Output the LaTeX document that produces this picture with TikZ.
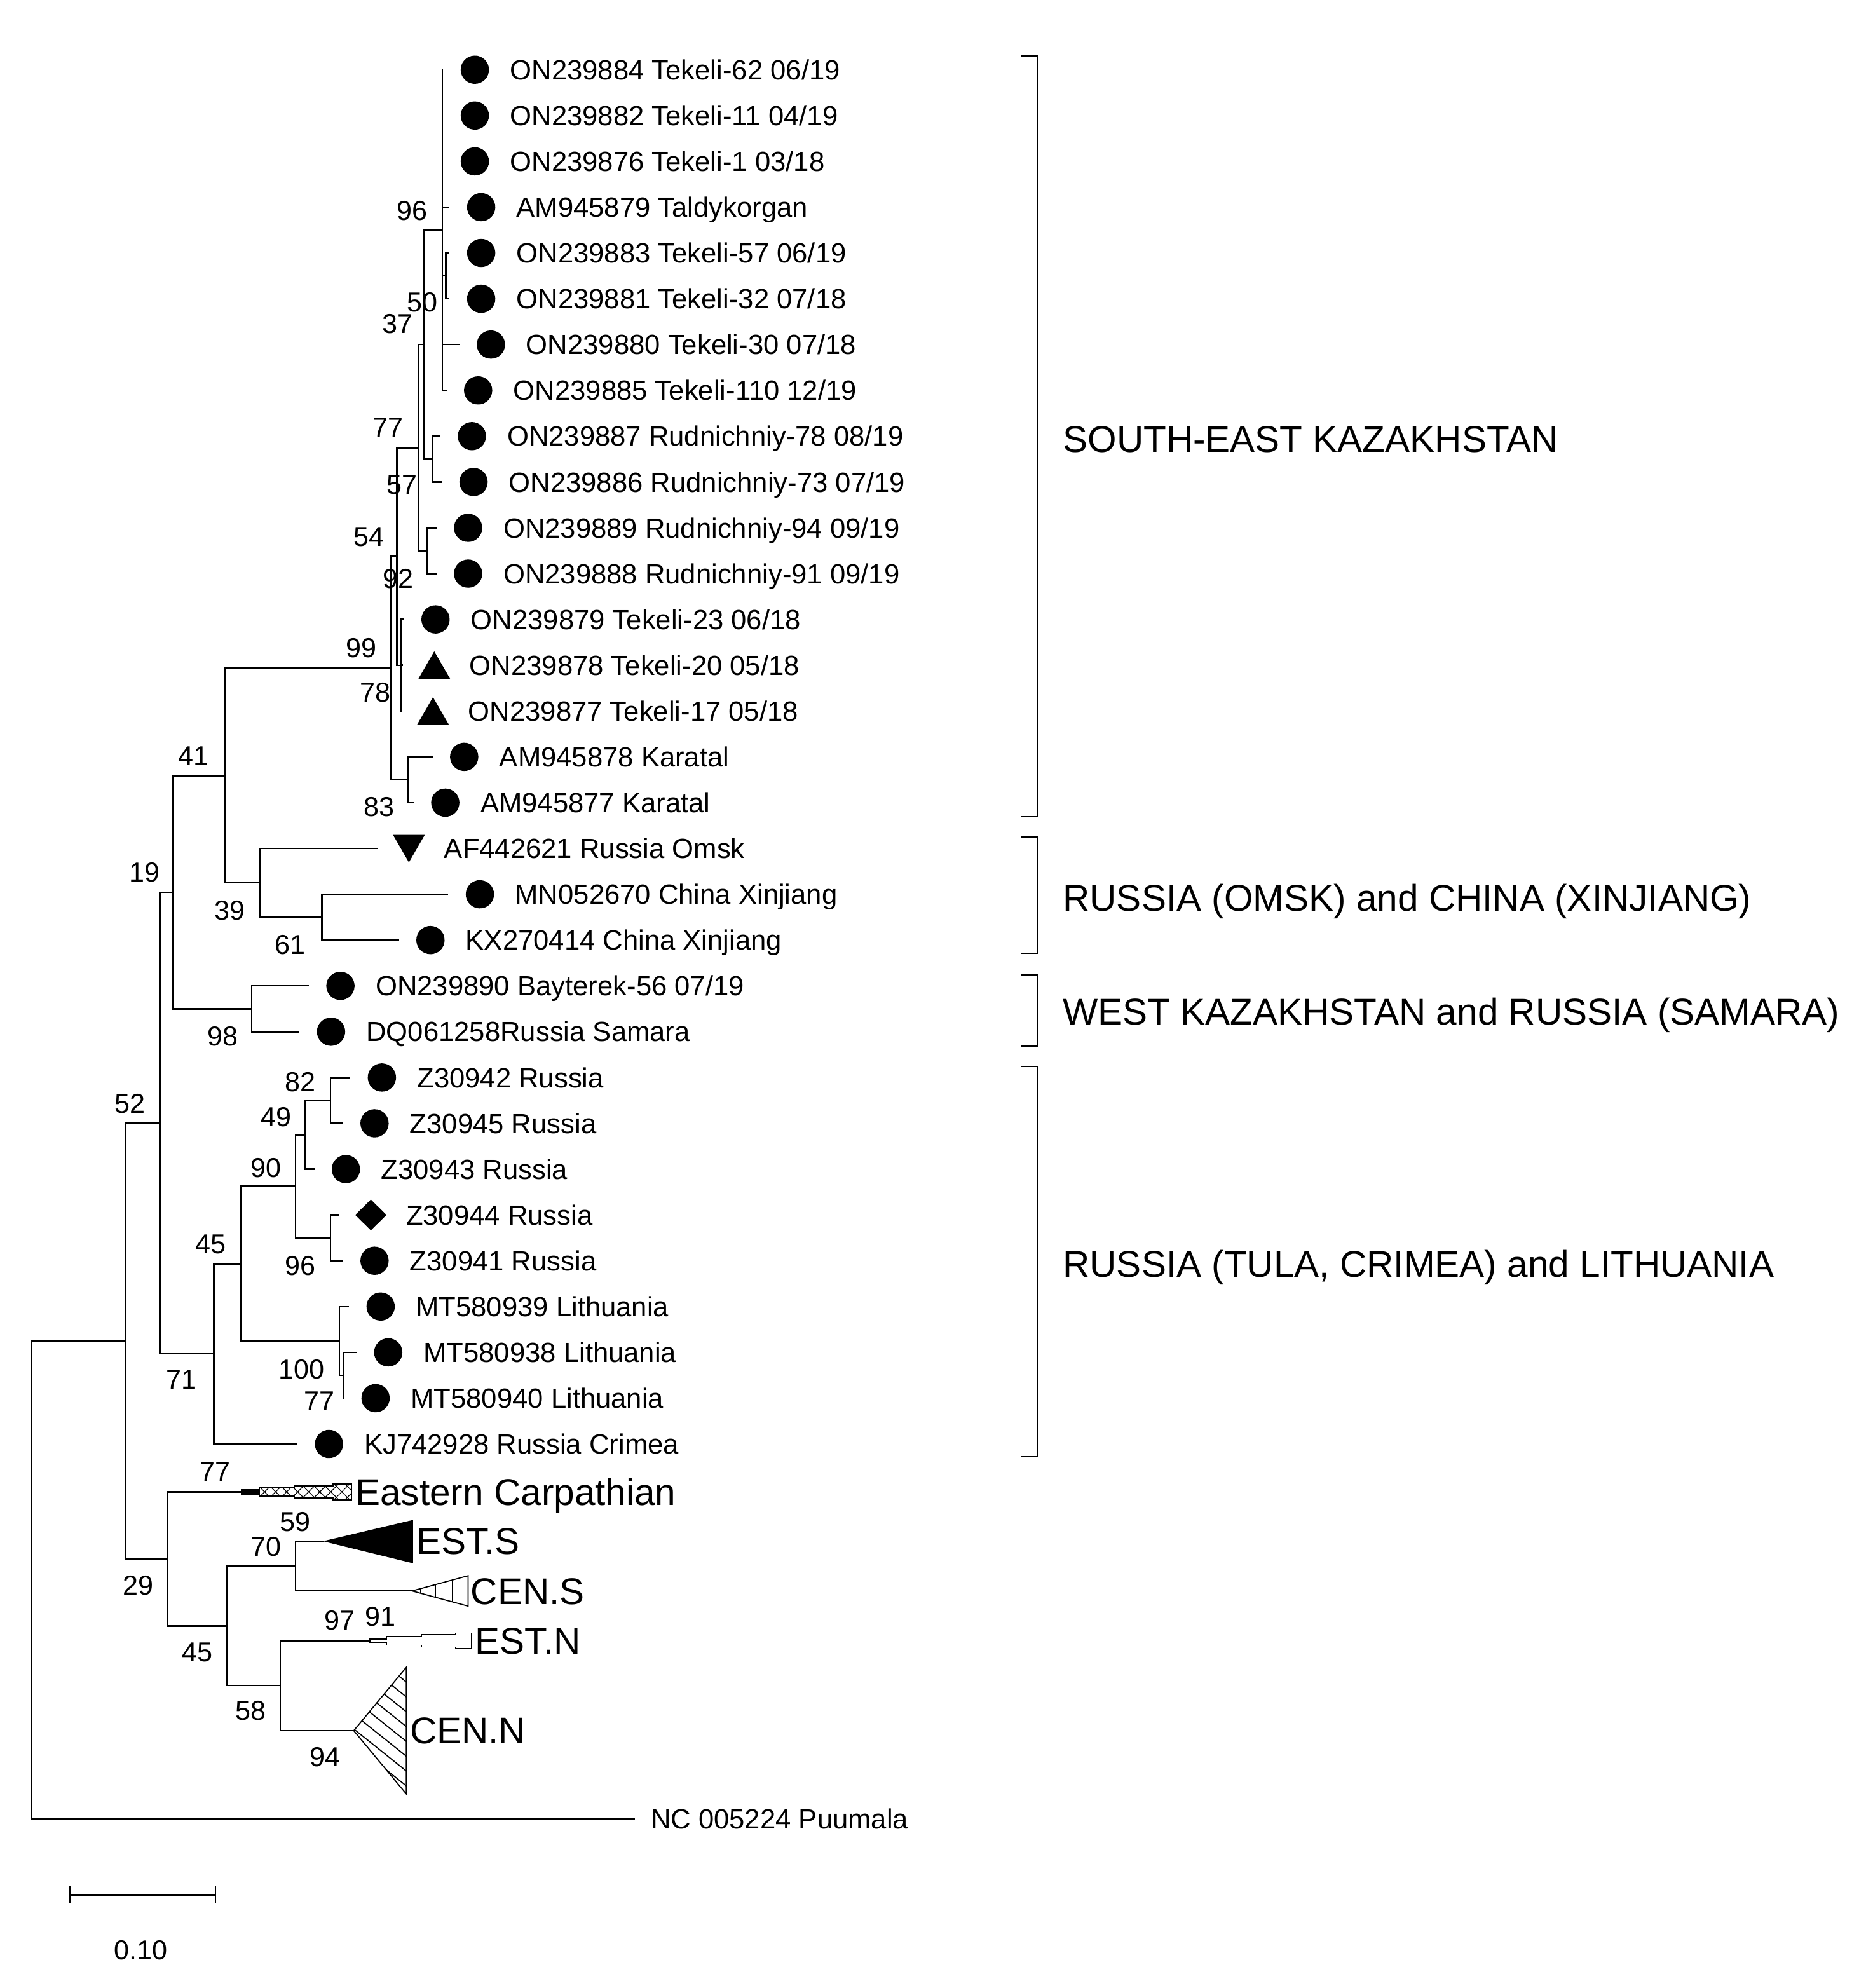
\documentclass[tikz,border=0pt]{standalone}
\usepackage{fontspec}
\setmainfont{Liberation Sans}
\usepackage{tikz}
\usetikzlibrary{positioning}
\usetikzlibrary{shapes.geometric}
\usetikzlibrary{patterns.meta}
\tikzset{>=latex}
\tikzstyle{branch} = [line width=0.7pt, line cap=rect]
\tikzstyle{mdot} = [circle, fill=black, inner sep=0, minimum size=0.446cm]
\tikzstyle{mup} = [regular polygon, regular polygon sides=3, fill=black, inner sep=0, minimum size=0.578cm, yshift=-0.07cm]
\tikzstyle{mdown} = [regular polygon, regular polygon sides=3, shape border rotate=180, fill=black, inner sep=0, minimum size=0.578cm, yshift=0.07cm]
\tikzstyle{mdia} = [diamond, fill=black, inner sep=0, minimum width=0.5cm, minimum height=0.49cm]
\tikzstyle{leaf} = [inner sep=0, anchor=west, text height=8.9pt, text depth=0pt, font=\fontsize{12.45}{14}\selectfont]
\tikzstyle{boot} = [inner sep=0, text height=8.8pt, text depth=0pt, font=\fontsize{12.3}{14}\selectfont]
\tikzstyle{clade} = [inner sep=0, anchor=west, text height=11.9pt, text depth=0pt, font=\fontsize{16.7}{20}\selectfont]

\begin{document}
\begin{tikzpicture}[x=0.02cm, y=-0.02cm]
\useasboundingbox (0,0) rectangle (1477,1568);

% leaves: row / tip x / marker / name
\foreach \i/\x/\s/\t in {
  1/349/mdot/{ON239884 Tekeli-62 06/19},
  2/349/mdot/{ON239882 Tekeli-11 04/19},
  3/349/mdot/{ON239876 Tekeli-1 03/18},
  4/354/mdot/{AM945879 Taldykorgan},
  5/354/mdot/{ON239883 Tekeli-57 06/19},
  6/354/mdot/{ON239881 Tekeli-32 07/18},
  7/361.7/mdot/{ON239880 Tekeli-30 07/18},
  8/351.6/mdot/{ON239885 Tekeli-110 12/19},
  9/346.7/mdot/{ON239887 Rudnichniy-78 08/19},
  10/348/mdot/{ON239886 Rudnichniy-73 07/19},
  11/343.7/mdot/{ON239889 Rudnichniy-94 09/19},
  12/343.7/mdot/{ON239888 Rudnichniy-91 09/19},
  13/318/mdot/{ON239879 Tekeli-23 06/18},
  14/317/mup/{ON239878 Tekeli-20 05/18},
  15/316/mup/{ON239877 Tekeli-17 05/18},
  16/340.6/mdot/{AM945878 Karatal},
  17/325.7/mdot/{AM945877 Karatal},
  18/297/mdown/{AF442621 Russia Omsk},
  19/353/mdot/{MN052670 China Xinjiang},
  20/314/mdot/{KX270414 China Xinjiang},
  21/243/mdot/{ON239890 Bayterek-56 07/19},
  22/235.6/mdot/{DQ061258Russia Samara},
  23/275.7/mdot/{Z30942 Russia},
  24/269.9/mdot/{Z30945 Russia},
  25/247.3/mdot/{Z30943 Russia},
  26/267/mdia/{Z30944 Russia},
  27/269.9/mdot/{Z30941 Russia},
  28/274.7/mdot/{MT580939 Lithuania},
  29/280.7/mdot/{MT580938 Lithuania},
  30/270.7/mdot/{MT580940 Lithuania},
  31/234/mdot/{KJ742928 Russia Crimea}}{
  \pgfmathsetmacro{\yy}{55+(\i-1)*36.13}
  \coordinate (t\i) at (\x,\yy);
  \coordinate (r\i) at (\x+25.5,\yy);
  \node[\s] (m\i) at (r\i) {};
  \node[leaf, right=0.55cm of r\i] (l\i) {\t};
}

% collapsed clades and outgroup
\coordinate (cEC) at (190.3,1176.8);
\coordinate (cESTS) at (254.7,1215.6);
\coordinate (cCENS) at (325,1254.8);
\coordinate (cESTN) at (291.5,1294.2);
\coordinate (cCENN) at (279,1365);
\coordinate (tP) at (500,1434.4);

% internal nodes
\coordinate (n2) at (351.6,217.6);
\coordinate (n1) at (349,181.5);
\coordinate (n3) at (341,362.1);
\coordinate (nA) at (334,271.8);
\coordinate (n4) at (336.6,434.4);
\coordinate (nB) at (330,353.1);
\coordinate (nD) at (316,524.7);
\coordinate (nC) at (313,438.9);
\coordinate (n83) at (321.6,615.1);
\coordinate (nR) at (308,527);
\coordinate (n61) at (254,723.4);
\coordinate (n39) at (205,696.3);
\coordinate (n41) at (177.5,611.7);
\coordinate (n98) at (198.5,795.7);
\coordinate (n19) at (136.7,703.7);
\coordinate (n82) at (260.7,868);
\coordinate (n49) at (240.5,895);
\coordinate (n96) at (260.7,976.4);
\coordinate (n90) at (233,935.7);
\coordinate (n77) at (270.7,1084.7);
\coordinate (n100) at (267.6,1057.6);
\coordinate (n45) at (189.7,996.7);
\coordinate (n71) at (168.6,1067.8);
\coordinate (nX) at (126,885.8);
\coordinate (n70) at (233,1235.2);
\coordinate (n58) at (221,1329.5);
\coordinate (n45b) at (178.8,1282.4);
\coordinate (n29) at (131.8,1229.5);
\coordinate (n52) at (98.8,1057.7);
\coordinate (root) at (25,1246);

% branches
\foreach \p/\c in {n2/t5, n2/t6,
  n1/t1, n1/t2, n1/t3, n1/t4, n1/n2, n1/t7, n1/t8,
  n3/t9, n3/t10, nA/n1, nA/n3, n4/t11, n4/t12, nB/nA, nB/n4,
  nD/t13, nD/t14, nD/t15, nC/nB, nC/nD, n83/t16, n83/t17, nR/nC, nR/n83,
  n61/t19, n61/t20, n39/t18, n39/n61, n41/nR, n41/n39,
  n98/t21, n98/t22, n19/n41, n19/n98,
  n82/t23, n82/t24, n49/n82, n49/t25, n96/t26, n96/t27, n90/n49, n90/n96,
  n77/t29, n77/t30, n100/t28, n100/n77, n45/n90, n45/n100, n71/n45, n71/t31,
  nX/n19, nX/n71,
  n70/cESTS, n70/cCENS, n58/cESTN, n58/cCENN, n45b/n70, n45b/n58,
  n29/cEC, n29/n45b, n52/nX, n52/n29, root/n52, root/tP}
  \draw[branch] (\p) |- (\c);

% Eastern Carpathian
\path[pattern={Lines[angle=45,distance=3.5pt,line width=0.35pt]}] (204.6,1173.5) -- (232.4,1173.5) -- (232.4,1172) -- (262.8,1172) -- (262.8,1170.6) -- (277.1,1170.6) -- (277.1,1183) -- (262.8,1183) -- (262.8,1181.6) -- (232.4,1181.6) -- (232.4,1180.1) -- (204.6,1180.1) -- cycle;
\path[pattern={Lines[angle=-45,distance=3.5pt,line width=0.35pt]}] (204.6,1173.5) -- (232.4,1173.5) -- (232.4,1172) -- (262.8,1172) -- (262.8,1170.6) -- (277.1,1170.6) -- (277.1,1183) -- (262.8,1183) -- (262.8,1181.6) -- (232.4,1181.6) -- (232.4,1180.1) -- (204.6,1180.1) -- cycle;
\draw[line width=0.5pt, fill=black] (cEC) -- (190.3,1175.1) -- (204.6,1175.1) -- (204.6,1178.5) -- (190.3,1178.5) -- cycle;
\draw[line width=0.5pt] (204.6,1175.1) -- (204.6,1173.5) -- (232.4,1173.5) -- (232.4,1172) -- (262.8,1172) -- (262.8,1170.6) -- (277.1,1170.6) -- (277.1,1183) -- (262.8,1183) -- (262.8,1181.6) -- (232.4,1181.6) -- (232.4,1180.1) -- (204.6,1180.1) -- (204.6,1178.5);

% EST.S
\fill (cESTS) -- (325.8,1198.8) -- (325.8,1233) -- cycle;

% CEN.S
\draw[line width=0.5pt] (cCENS) -- (369.2,1242.8) -- (369.2,1266.8) -- cycle;
\foreach \u in {331.7,343.3,356.7}
  \draw[line width=0.5pt] (\u,{1254.8-12*(\u-325)/44.2}) -- (\u,{1254.8+12*(\u-325)/44.2});

% EST.N
\draw[line width=0.5pt] (cESTN) -- (291.5,1292.8) -- (304.9,1292.8) -- (304.9,1290.9) -- (332.5,1290.9) -- (332.5,1289.4) -- (359.2,1289.4) -- (359.2,1288) -- (372,1288) -- (372,1300.4) -- (359.2,1300.4) -- (359.2,1299) -- (332.5,1299) -- (332.5,1297.5) -- (304.9,1297.5) -- (304.9,1295.6) -- (291.5,1295.6) -- cycle;

% CEN.N
\begin{scope}
  \clip (cCENN) -- (320.5,1315) -- (320.5,1415) -- cycle;
  \foreach \j in {0,...,8}
    \draw[line width=0.5pt] (320.5,1315+\j*11.7) -- ++(-60,-48);
\end{scope}
\draw[line width=0.5pt] (cCENN) -- (320.5,1315) -- (320.5,1415) -- cycle;

% group labels
\node[clade] (ecLab) at (280,1176.8) {Eastern Carpathian};
\node[clade] (estsLab) at (328,1215.6) {EST.S};
\node[clade] (censLab) at (371,1254.8) {CEN.S};
\node[clade] (estnLab) at (374.5,1294.2) {EST.N};
\node[clade] (cennLab) at (323,1365) {CEN.N};
\node[leaf] (puuLab) at (513,1434.4) {NC 005224 Puumala};

% bootstrap values
\foreach \v/\x/\y [count=\k] in {96/325/166, 50/333/238, 37/313.5/255, 77/306/337,
  57/317/382, 54/291/423, 92/314/456, 99/285/511, 78/296/546, 83/299/636,
  41/152.5/596, 19/114/688, 39/181/718, 61/229/745, 98/175.6/817,
  82/237/853, 49/217.6/881, 90/210/921, 45/166/981, 96/237/998, 52/102.5/870,
  100/238/1080, 77/252/1105, 71/143.3/1088, 77/169.7/1160.5, 59/232.7/1200,
  70/210/1219.6, 29/109/1250, 97/268/1278, 91/300/1275, 45/155.7/1302.6,
  58/197.7/1349, 94/256.4/1385.6}
  \node[boot] (bs\k) at (\x,\y) {\v};

% clade brackets
\foreach \a/\b in {44/644, 660/752, 769/825, 841/1149}
  \draw[branch] (806,\a) -- (818,\a) -- (818,\b) -- (806,\b);
\node[clade] (seKaz) at (838,346) {SOUTH-EAST KAZAKHSTAN};
\node[clade] (omsk) at (838,708) {RUSSIA (OMSK) and CHINA (XINJIANG)};
\node[clade] (westKaz) at (838,798) {WEST KAZAKHSTAN and RUSSIA (SAMARA)};
\node[clade] (tula) at (838,997) {RUSSIA (TULA, CRIMEA) and LITHUANIA};

% scale bar
\coordinate (sbA) at (55.2,1494.6);
\coordinate (sbB) at (169.8,1494.6);
\draw[branch] (sbA) -- (sbB);
\draw[branch] ([yshift=0.12cm]sbA) -- ([yshift=-0.12cm]sbA);
\draw[branch] ([yshift=0.12cm]sbB) -- ([yshift=-0.12cm]sbB);
\node[boot] (sbLab) at (111,1537.8) {0.10};
\end{tikzpicture}
\end{document}
